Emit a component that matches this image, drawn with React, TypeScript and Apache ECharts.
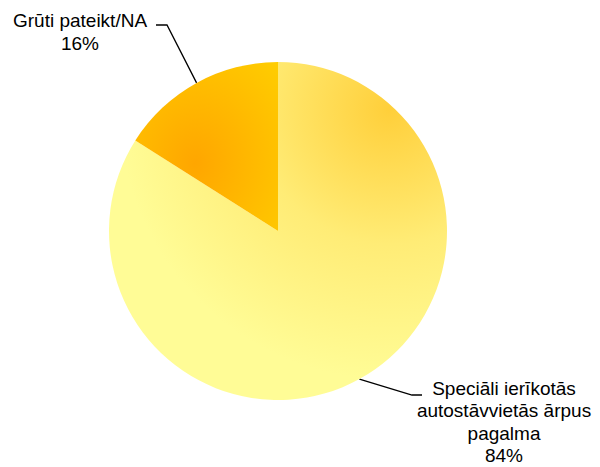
import React, { useEffect, useRef } from "react";
import * as echarts from "echarts";

const categories: string[] = [
  "Speciāli ierīkotās\nautostāvvietās ārpus\npagalma",
  "Grūti pateikt/NA",
];
const values: number[] = [84, 16];

export default function App() {
  const ref = useRef<HTMLDivElement>(null);
  useEffect(() => {
    if (!ref.current) return;
    const chart = echarts.init(ref.current, undefined, { renderer: "svg" });
    const colors = [
      new echarts.graphic.RadialGradient(0.83, 0.14, 0.8, [
        { offset: 0, color: "#FFCF3A" },
        { offset: 0.5, color: "#FFEC76" },
        { offset: 1, color: "#FFFC96" },
      ]),
      new echarts.graphic.RadialGradient(0.42, 0.6, 0.85, [
        { offset: 0, color: "#FFA600" },
        { offset: 1, color: "#FFCE00" },
      ]),
    ];
    chart.setOption({
      animation: false,
      backgroundColor: "#ffffff",
      series: [
        {
          type: "pie",
          center: [278, 231],
          radius: 169,
          startAngle: 90,
          clockwise: true,
          avoidLabelOverlap: false,
          data: categories.map((name, i) => ({
            name,
            value: values[i],
            itemStyle: { color: colors[i], borderWidth: 0 },
          })),
          label: {
            show: true,
            position: "outside",
            color: "#000",
            fontFamily: "Liberation Sans, Arial, sans-serif",
            fontSize: 19,
            lineHeight: 22.5,
            align: "center",
            formatter: (p: any) => `${p.name}\n${p.value}%`,
          },
          labelLine: {
            show: true,
            lineStyle: { color: "#000", width: 1.3 },
          },
          labelLayout: (p: any) => {
            const start = p.labelLinePoints ? p.labelLinePoints[0] : [0, 0];
            if (p.dataIndex === 1) {
              return {
                x: 80,
                y: 32,
                align: "center",
                verticalAlign: "middle",
                labelLinePoints: [start, [167, 25], [156, 25]],
              };
            }
            return {
              x: 504,
              y: 422,
              align: "center",
              verticalAlign: "middle",
              labelLinePoints: [start, [412, 395], [422, 395]],
            };
          },
          emphasis: { disabled: true },
        },
      ],
    });
    return () => chart.dispose();
  }, []);
  return (
    <div
      ref={ref}
      style={{ position: "fixed", left: 0, top: 0, width: 600, height: 467 }}
    />
  );
}
